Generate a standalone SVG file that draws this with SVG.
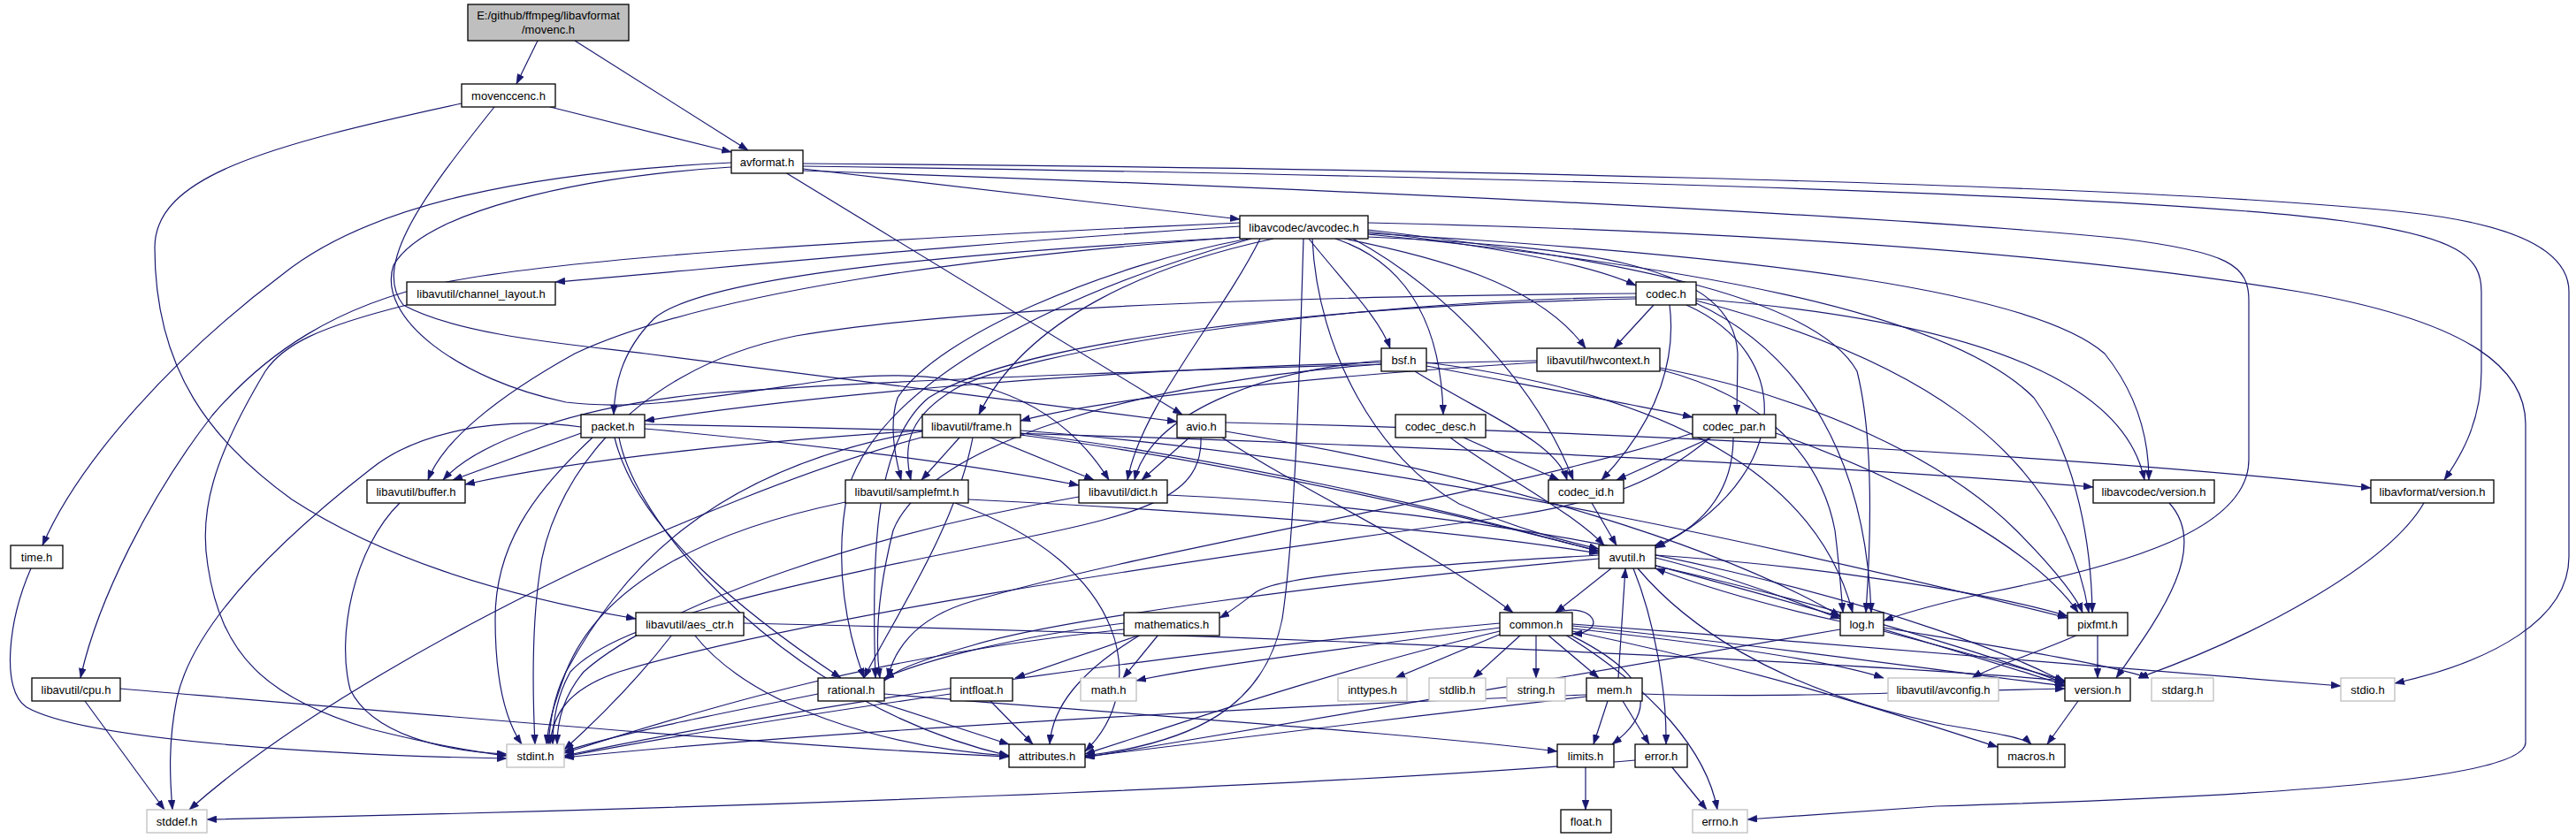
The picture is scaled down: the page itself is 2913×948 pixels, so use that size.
<svg xmlns="http://www.w3.org/2000/svg" width="2913" height="948" viewBox="0 0 2913 948">
<style>
.n rect{fill:#ffffff;stroke:#000000;stroke-width:1.3}
.s rect{fill:#ffffff;stroke:#bfbfbf;stroke-width:1.3}
.r rect{fill:#bfbfbf;stroke:#000000;stroke-width:1.3}
text{font-family:"Liberation Sans",Arial,sans-serif;font-size:13px;fill:#000;text-anchor:middle}
#edges path{fill:none;stroke:#191970;stroke-width:1.2;marker-end:url(#a)}
</style>
<defs>
<marker id="a" markerWidth="11" markerHeight="8" refX="11" refY="4" orient="auto" markerUnits="userSpaceOnUse"><path d="M0,0 L11,4 L0,8 z" fill="#191970" stroke="#191970" stroke-width="0.5"/></marker>
</defs>
<rect x="0" y="0" width="2913" height="948" fill="#ffffff"/>
<g id="edges">
<path d="M608,46 L584,95"/>
<path d="M650,46 L846,170"/>
<path d="M622,121 L827,172"/>
<path d="M522,117 C300,165 175,200 175,280 C175,420 240,500 330,565 C430,630 560,672 719,700"/>
<path d="M559,121 C480,220 420,300 456,345 C520,380 650,390 730,400 C900,420 1150,455 1331,477"/>
<path d="M908,191 L1402,248"/>
<path d="M827,184 C600,195 420,230 320,310 C200,400 90,520 48,617"/>
<path d="M827,189 C650,200 480,240 445,300 C425,360 520,430 640,455 C720,465 800,450 950,428 C1080,415 1190,440 1254,543"/>
<path d="M888,195 L1337,469"/>
<path d="M908,188 C1500,196 2400,216 2650,250 C2780,268 2806,290 2806,330 L2806,420 C2806,480 2780,520 2764,543"/>
<path d="M908,185 C1500,189 2400,206 2720,240 C2860,255 2905,290 2905,330 L2905,630 C2905,700 2820,748 2708,773"/>
<path d="M908,193 C1400,210 2100,240 2400,270 C2520,285 2543,300 2543,340 L2543,520 C2543,600 2400,640 2250,670 C2180,685 2150,695 2130,702"/>
<path d="M1547,252 C1900,260 2300,280 2600,330 C2800,365 2856,420 2856,480 L2856,840 C2856,880 2600,900 2190,912 L1976,927"/>
<path d="M1412,270 C1250,300 1060,380 1015,450 C1005,480 1012,515 1019,543"/>
<path d="M1474,270 C1470,400 1465,600 1450,700 C1430,800 1350,840 1227,855"/>
<path d="M1484,270 C1490,400 1560,520 1650,570 C1720,600 1770,612 1808,621"/>
<path d="M1405,268 C1100,290 800,330 650,400 C560,450 500,500 484,543"/>
<path d="M1402,252 C1000,270 650,290 500,320 C380,345 300,400 240,470 C170,560 110,680 91,767"/>
<path d="M1402,256 C1100,275 850,300 628,319"/>
<path d="M1425,270 C1380,360 1290,460 1275,543"/>
<path d="M1440,270 C1300,300 1160,360 1107,469"/>
<path d="M1520,270 C1620,290 1740,320 1793,394"/>
<path d="M1547,260 C1800,290 2050,330 2100,420 C2120,500 2115,620 2110,693"/>
<path d="M1547,265 C1900,300 2200,350 2300,450 C2350,520 2365,620 2366,693"/>
<path d="M1415,270 C1200,330 1000,430 960,550 C940,640 960,720 977,767"/>
<path d="M1480,270 C1520,320 1560,360 1572,394"/>
<path d="M1547,262 C1700,280 1800,300 1850,323"/>
<path d="M1510,270 C1600,300 1630,380 1632,469"/>
<path d="M1547,268 C1800,280 1960,300 1965,400 L1964,469"/>
<path d="M1530,270 C1640,330 1740,440 1779,543"/>
<path d="M1410,268 C1100,285 800,310 740,360 C700,400 695,440 694,469"/>
<path d="M1547,264 C2000,290 2300,330 2380,400 C2420,450 2430,500 2430,543"/>
<path d="M1850,332 C1500,335 1100,345 900,380 C700,420 620,560 610,650 C600,720 603,800 605,842"/>
<path d="M1907,345 C2030,400 2030,540 1872,620"/>
<path d="M1870,345 L1825,394"/>
<path d="M1918,343 C2040,400 2110,520 2116,693"/>
<path d="M1918,340 C2150,400 2330,500 2362,693"/>
<path d="M1850,338 C1500,345 1150,385 1050,450 C990,500 985,620 990,767"/>
<path d="M1850,336 C1500,340 1150,400 1080,440 C1030,470 1020,500 1030,543"/>
<path d="M1888,345 C1895,400 1880,470 1811,543"/>
<path d="M1918,338 C2200,360 2400,420 2425,543"/>
<path d="M1562,408 C1420,420 1300,470 1283,543"/>
<path d="M1613,410 C1850,440 2050,520 2095,693"/>
<path d="M1562,412 C1300,430 1050,500 1010,600 C990,680 990,730 995,767"/>
<path d="M1600,420 C1680,470 1760,500 1772,543"/>
<path d="M1613,414 C1750,440 1860,460 1914,472"/>
<path d="M1562,410 C1200,420 900,450 729,476"/>
<path d="M1738,408 C1400,415 1000,430 800,445 C650,460 540,500 501,543"/>
<path d="M1738,410 C1500,425 1250,450 1154,476"/>
<path d="M1877,418 C2000,450 2060,520 2075,600 C2080,640 2082,670 2084,693"/>
<path d="M1877,416 C2050,450 2200,520 2280,600 C2330,650 2350,680 2355,693"/>
<path d="M1640,495 C1700,540 1780,580 1814,617"/>
<path d="M1655,495 L1763,543"/>
<path d="M1934,495 C1870,550 1800,570 1700,585 C1300,640 900,700 700,760 C640,780 625,810 622,842"/>
<path d="M1960,495 C1960,560 1920,600 1870,618"/>
<path d="M1914,490 C1700,560 1300,620 1100,680 C1030,700 1010,740 1004,767"/>
<path d="M2008,490 C2150,540 2300,620 2350,693"/>
<path d="M1935,495 L1828,543"/>
<path d="M1800,569 L1828,617"/>
<path d="M657,483 C560,470 470,490 420,530 C330,600 220,700 200,790 C190,840 192,880 195,916"/>
<path d="M670,495 C600,560 560,620 560,700 C560,780 575,820 590,842"/>
<path d="M700,495 C720,600 900,800 1141,855"/>
<path d="M657,490 L512,543"/>
<path d="M729,485 C900,500 1100,525 1220,549"/>
<path d="M695,495 C720,600 850,700 951,767"/>
<path d="M729,480 C1300,490 2000,520 2367,551"/>
<path d="M1045,494 C800,560 400,750 214,916"/>
<path d="M1043,488 C800,530 700,650 640,760 C625,790 622,820 620,842"/>
<path d="M1154,490 C1400,520 1650,580 1808,624"/>
<path d="M1043,487 C850,500 650,520 526,548"/>
<path d="M1120,495 L1237,543"/>
<path d="M1100,495 C1080,600 1010,700 977,767"/>
<path d="M1085,495 L1042,543"/>
<path d="M1154,487 C1600,520 2100,640 2338,699"/>
<path d="M1154,492 C1600,550 2100,700 2335,775"/>
<path d="M1358,495 C1360,560 1300,580 1150,610 C900,660 700,700 645,760 C628,790 625,820 625,842"/>
<path d="M1382,495 C1480,560 1600,610 1711,693"/>
<path d="M1345,495 L1291,543"/>
<path d="M1386,488 C1700,540 1950,620 2081,697"/>
<path d="M1386,478 C1900,490 2400,520 2681,552"/>
<path d="M460,345 C360,370 320,390 300,420 C240,520 225,580 235,640 C250,740 300,790 420,825 C480,840 530,850 573,855"/>
<path d="M35,643 C10,700 0,780 30,800 C100,840 400,855 573,858"/>
<path d="M96,793 L186,916"/>
<path d="M136,779 C500,810 900,845 1141,856"/>
<path d="M452,569 C400,620 380,720 396,780 C420,830 500,850 573,853"/>
<path d="M956,568 C800,600 680,660 640,760 C625,800 620,820 618,842"/>
<path d="M1095,565 C1400,580 1650,600 1808,626"/>
<path d="M1080,569 C1280,640 1300,780 1227,850"/>
<path d="M1220,562 C1000,600 750,680 660,760 C635,790 630,820 630,842"/>
<path d="M1320,560 C1800,580 2200,700 2335,772"/>
<path d="M760,718 C720,770 680,810 638,848"/>
<path d="M785,718 C850,800 1000,845 1141,855"/>
<path d="M841,705 C1500,720 2100,750 2335,770"/>
<path d="M1271,712 C1000,740 800,800 638,852"/>
<path d="M1310,718 L1270,767"/>
<path d="M1290,718 C1220,760 1190,800 1187,842"/>
<path d="M1271,705 C1150,720 1050,745 1000,767"/>
<path d="M1290,718 L1148,767"/>
<path d="M925,785 C800,810 700,830 638,850"/>
<path d="M1000,785 C1300,810 1600,830 1761,850"/>
<path d="M990,793 L1141,842"/>
<path d="M1075,785 C900,810 750,835 638,856"/>
<path d="M1120,793 L1168,842"/>
<path d="M1822,643 L1759,693"/>
<path d="M1847,643 C1870,700 1885,780 1884,842"/>
<path d="M1808,632 C1500,660 1200,700 1100,730 C1030,750 1010,760 1000,770"/>
<path d="M1872,640 C2050,680 2250,740 2335,773"/>
<path d="M1852,643 C1900,700 2000,780 2200,820 C2260,830 2290,835 2297,842"/>
<path d="M1808,628 C1600,640 1450,650 1420,670 C1400,685 1390,693 1379,699"/>
<path d="M1872,631 C1950,650 2030,680 2081,700"/>
<path d="M1872,628 C2050,640 2250,670 2338,697"/>
<path d="M1770,718 C1870,780 1930,850 1942,916"/>
<path d="M1700,716 L1578,767"/>
<path d="M1775,718 C1860,760 1880,800 1823,842"/>
<path d="M1696,710 C1550,730 1350,755 1285,770"/>
<path d="M1696,705 C1300,740 900,800 638,855"/>
<path d="M1778,706 C2100,730 2450,760 2647,776"/>
<path d="M1720,718 L1666,767"/>
<path d="M1737,718 L1737,767"/>
<path d="M1696,714 C1500,760 1300,830 1227,853"/>
<path d="M1778,714 C2000,760 2150,810 2259,845"/>
<path d="M1778,708 C2000,730 2200,760 2335,776"/>
<path d="M1778,711 C1950,730 2080,750 2130,767"/>
<path d="M1750,718 L1808,767"/>
<path d="M1758,693 C1805,680 1818,716 1778,717"/>
<path d="M1818,793 L1802,842"/>
<path d="M1794,786 C1400,800 900,830 638,857"/>
<path d="M1794,788 C1600,810 1350,840 1227,856"/>
<path d="M1835,793 L1865,842"/>
<path d="M1830,767 L1838,643"/>
<path d="M1857,785 C2000,790 2200,782 2335,779"/>
<path d="M2130,710 C2250,730 2380,750 2430,767"/>
<path d="M2081,703 C2000,685 1930,665 1872,643"/>
<path d="M2081,712 C1800,760 1400,830 1227,857"/>
<path d="M2130,714 C2230,740 2300,760 2335,770"/>
<path d="M2350,718 C2300,740 2250,755 2230,767"/>
<path d="M2372,718 L2372,767"/>
<path d="M1890,867 L1930,916"/>
<path d="M1849,860 C1500,890 800,915 234,927"/>
<path d="M1793,867 L1793,916"/>
<path d="M2350,793 L2315,842"/>
<path d="M2453,569 C2500,620 2440,700 2393,767"/>
<path d="M2741,569 C2700,640 2550,720 2418,767"/>
</g>
<g id="movenc" class="r"><rect x="529" y="5" width="182" height="41"/><text x="620" y="22">E:/github/ffmpeg/libavformat</text><text x="620" y="38">/movenc.h</text></g>
<g id="movenccenc" class="n"><rect x="522" y="95" width="106" height="26"/><text x="575" y="112.5">movenccenc.h</text></g>
<g id="avformat" class="n"><rect x="827" y="170" width="81" height="26"/><text x="867.5" y="187.5">avformat.h</text></g>
<g id="avcodec" class="n"><rect x="1402" y="244" width="145" height="26"/><text x="1474.5" y="261.5">libavcodec/avcodec.h</text></g>
<g id="channel_layout" class="n"><rect x="460" y="319" width="168" height="26"/><text x="544" y="336.5">libavutil/channel_layout.h</text></g>
<g id="codec" class="n"><rect x="1850" y="319" width="68" height="26"/><text x="1884" y="336.5">codec.h</text></g>
<g id="bsf" class="n"><rect x="1562" y="394" width="51" height="26"/><text x="1587.5" y="411.5">bsf.h</text></g>
<g id="hwcontext" class="n"><rect x="1738" y="394" width="139" height="26"/><text x="1807.5" y="411.5">libavutil/hwcontext.h</text></g>
<g id="packet" class="n"><rect x="657" y="469" width="72" height="26"/><text x="693" y="486.5">packet.h</text></g>
<g id="frame" class="n"><rect x="1043" y="469" width="111" height="26"/><text x="1098.5" y="486.5">libavutil/frame.h</text></g>
<g id="avio" class="n"><rect x="1331" y="469" width="55" height="26"/><text x="1358.5" y="486.5">avio.h</text></g>
<g id="codec_desc" class="n"><rect x="1578" y="469" width="102" height="26"/><text x="1629" y="486.5">codec_desc.h</text></g>
<g id="codec_par" class="n"><rect x="1914" y="469" width="94" height="26"/><text x="1961" y="486.5">codec_par.h</text></g>
<g id="buffer" class="n"><rect x="415" y="543" width="111" height="26"/><text x="470.5" y="560.5">libavutil/buffer.h</text></g>
<g id="samplefmt" class="n"><rect x="956" y="543" width="139" height="26"/><text x="1025.5" y="560.5">libavutil/samplefmt.h</text></g>
<g id="dict" class="n"><rect x="1220" y="543" width="100" height="26"/><text x="1270" y="560.5">libavutil/dict.h</text></g>
<g id="codec_id" class="n"><rect x="1751" y="543" width="85" height="26"/><text x="1793.5" y="560.5">codec_id.h</text></g>
<g id="lavc_version" class="n"><rect x="2367" y="543" width="137" height="26"/><text x="2435.5" y="560.5">libavcodec/version.h</text></g>
<g id="lavf_version" class="n"><rect x="2681" y="543" width="139" height="26"/><text x="2750.5" y="560.5">libavformat/version.h</text></g>
<g id="time" class="n"><rect x="12" y="617" width="59" height="26"/><text x="41.5" y="634.5">time.h</text></g>
<g id="avutil" class="n"><rect x="1808" y="617" width="64" height="26"/><text x="1840" y="634.5">avutil.h</text></g>
<g id="aes_ctr" class="n"><rect x="719" y="693" width="122" height="26"/><text x="780" y="710.5">libavutil/aes_ctr.h</text></g>
<g id="mathematics" class="n"><rect x="1271" y="693" width="108" height="26"/><text x="1325" y="710.5">mathematics.h</text></g>
<g id="common" class="n"><rect x="1696" y="693" width="82" height="26"/><text x="1737" y="710.5">common.h</text></g>
<g id="log" class="n"><rect x="2081" y="693" width="49" height="26"/><text x="2105.5" y="710.5">log.h</text></g>
<g id="pixfmt" class="n"><rect x="2338" y="693" width="68" height="26"/><text x="2372" y="710.5">pixfmt.h</text></g>
<g id="cpu" class="n"><rect x="36" y="767" width="100" height="26"/><text x="86" y="784.5">libavutil/cpu.h</text></g>
<g id="rational" class="n"><rect x="925" y="767" width="75" height="26"/><text x="962.5" y="784.5">rational.h</text></g>
<g id="intfloat" class="n"><rect x="1075" y="767" width="70" height="26"/><text x="1110" y="784.5">intfloat.h</text></g>
<g id="math" class="s"><rect x="1222" y="767" width="63" height="26"/><text x="1253.5" y="784.5">math.h</text></g>
<g id="inttypes" class="s"><rect x="1513" y="767" width="78" height="26"/><text x="1552" y="784.5">inttypes.h</text></g>
<g id="stdlib" class="s"><rect x="1616" y="767" width="64" height="26"/><text x="1648" y="784.5">stdlib.h</text></g>
<g id="string" class="s"><rect x="1704" y="767" width="66" height="26"/><text x="1737" y="784.5">string.h</text></g>
<g id="mem" class="n"><rect x="1794" y="767" width="63" height="26"/><text x="1825.5" y="784.5">mem.h</text></g>
<g id="avconfig" class="s"><rect x="2135" y="767" width="125" height="26"/><text x="2197.5" y="784.5">libavutil/avconfig.h</text></g>
<g id="version" class="n"><rect x="2335" y="767" width="74" height="26"/><text x="2372" y="784.5">version.h</text></g>
<g id="stdarg" class="s"><rect x="2433" y="767" width="70" height="26"/><text x="2468" y="784.5">stdarg.h</text></g>
<g id="stdio" class="s"><rect x="2647" y="767" width="61" height="26"/><text x="2677.5" y="784.5">stdio.h</text></g>
<g id="stdint" class="s"><rect x="573" y="842" width="65" height="26"/><text x="605.5" y="859.5">stdint.h</text></g>
<g id="attributes" class="n"><rect x="1141" y="842" width="86" height="26"/><text x="1184" y="859.5">attributes.h</text></g>
<g id="limits" class="n"><rect x="1761" y="842" width="64" height="26"/><text x="1793" y="859.5">limits.h</text></g>
<g id="error" class="n"><rect x="1849" y="842" width="59" height="26"/><text x="1878.5" y="859.5">error.h</text></g>
<g id="macros" class="n"><rect x="2259" y="842" width="76" height="26"/><text x="2297" y="859.5">macros.h</text></g>
<g id="stddef" class="s"><rect x="166" y="916" width="68" height="26"/><text x="200" y="933.5">stddef.h</text></g>
<g id="float" class="n"><rect x="1765" y="916" width="57" height="26"/><text x="1793.5" y="933.5">float.h</text></g>
<g id="errno" class="s"><rect x="1914" y="916" width="62" height="26"/><text x="1945" y="933.5">errno.h</text></g>
</svg>
